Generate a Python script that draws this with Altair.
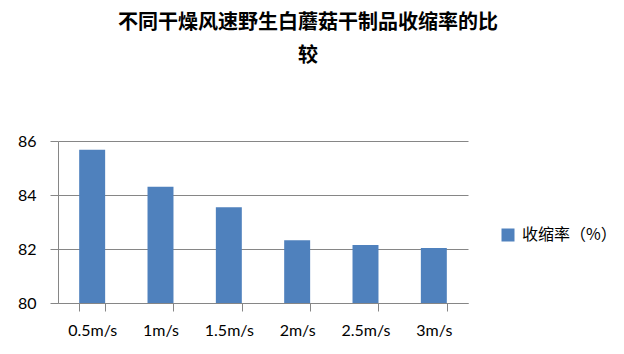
import altair as alt
import pandas as pd

categories = ["0.5m/s", "1m/s", "1.5m/s", "2m/s", "2.5m/s", "3m/s"]
values = [85.68, 84.31, 83.55, 82.32, 82.15, 82.04]
baseline = 80
series_name = "收缩率（%）"
title_lines = ["不同干燥风速野生白蘑菇干制品收缩率的比", "较\u3000\u3000\u3000"]

df = pd.DataFrame({"cat": categories, "val": values, "series": [series_name] * len(categories)})

chart = alt.Chart(df).mark_bar(color="#4F81BD").encode(
    x=alt.X("cat:N", sort=categories, title=None,
            scale=alt.Scale(paddingInner=0.62, paddingOuter=0.31),
            axis=alt.Axis(labelAngle=0, tickBand="extent", domainColor="#868686",
                          tickColor="#868686", tickSize=8, labelPadding=11,
                          labelFont="Lato", labelFontSize=16, labelColor="#000000",
                          grid=False)),
    y=alt.Y("val:Q", title=None,
            scale=alt.Scale(domain=[80, 86], zero=False, nice=False),
            axis=alt.Axis(values=[80, 82, 84, 86], domainColor="#868686",
                          tickColor="#868686", tickSize=8, labelPadding=14,
                          labelFont="Lato", labelFontSize=16, labelColor="#000000",
                          gridColor="#868686", gridWidth=1)),
    y2=alt.datum(baseline),
    color=alt.Color("series:N", scale=alt.Scale(range=["#4F81BD"]),
                    legend=alt.Legend(title=None, orient="none", legendX=442, legendY=86,
                                      symbolType="square", symbolSize=169,
                                      symbolStrokeWidth=0, labelFont="Noto Sans CJK SC",
                                      labelFontSize=16, labelColor="#000000", labelOffset=6)),
).properties(
    width=410,
    height=162,
    title=alt.TitleParams(text=title_lines, anchor="middle", frame="group",
                          font="Noto Sans CJK SC", fontSize=20, fontWeight="bold",
                          color="#000000", lineHeight=33, offset=67, dx=45),
    autosize=alt.AutoSizeParams(type="none"),
    padding={"left": 58, "top": 141, "right": 156, "bottom": 51},
).configure_view(stroke=None)

chart.save("out.html", embed_options={"renderer": "svg", "actions": False})
